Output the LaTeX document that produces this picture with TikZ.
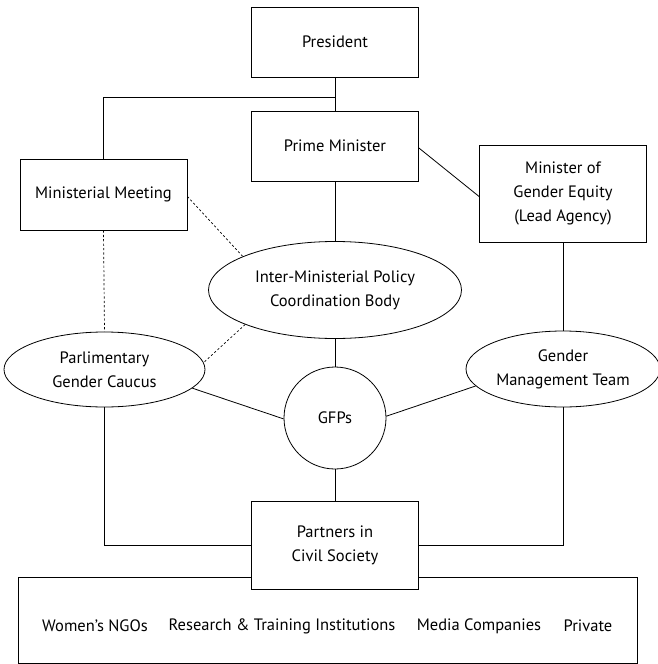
\documentclass[tikz,border=0pt]{standalone}
\usepackage{fontspec}
\setmainfont{PT Sans}
\usetikzlibrary{shapes.geometric}
\begin{document}
\begin{tikzpicture}[x=1pt,y=-1pt,
  every node/.style={font=\fontsize{16.5}{24}\selectfont, align=center, inner sep=0pt},
  box/.style={draw, fill=white, rectangle, line width=0.8pt},
  oval/.style={draw, fill=white, ellipse, line width=0.8pt},
  link/.style={line width=0.8pt},
  dotlink/.style={line width=0.7pt, dash pattern=on 2.2pt off 2.2pt}]
\useasboundingbox (0,0) rectangle (658,664);
% bottom band
\node[box, minimum width=619pt, minimum height=86pt] (band) at (327.5,620) {};
\node (ngo) at (95,626) {Women’s NGOs};
\node (rti) at (282,626) {Research \& Training Institutions};
\node (media) at (479,626) {Media Companies};
\node (priv) at (588,626) {Private};
% boxes
\node[box, minimum width=167pt, minimum height=70pt] (pres) at (335,42) {President};
\node[box, minimum width=167pt, minimum height=70pt] (pm) at (335,146) {Prime Minister};
\node[box, minimum width=167pt, minimum height=71pt] (mm) at (103.5,194.5) {Ministerial Meeting};
\node[box, minimum width=167pt, minimum height=97pt] (mge) at (563,193.5) {Minister of\\Gender Equity\\(Lead Agency)};
\node[oval, minimum width=253pt, minimum height=97pt] (imp) at (335,290) {Inter-Ministerial Policy\\Coordination Body};
\node[oval, minimum width=201pt, minimum height=75pt] (pgc) at (104.5,369.5) {Parlimentary\\Gender Caucus};
\node[oval, minimum width=194pt, minimum height=76pt] (gmt) at (563,369) {Gender\\Management Team};
\node[oval, minimum width=102pt, minimum height=102pt] (gfp) at (335,418) {GFPs};
\node[box, minimum width=167pt, minimum height=88pt] (pcs) at (335,545) {Partners in\\Civil Society};
% connectors
\coordinate (j) at (335,97);
\draw[link] (pres.south) -- (pm.north);
\draw[link] (j) -| (mm.north);
\draw[link] ([yshift=-2pt]pm.east) -- ([yshift=-3pt]mge.west);
\draw[link] (pm.south) -- (imp.north);
\draw[link] (mge.south) -- (gmt.north);
\draw[dotlink] ([yshift=-2pt]mm.east) -- (imp.160);
\draw[dotlink] (mm.south) -- (pgc.north);
\draw[dotlink] (imp.201.5) -- (pgc.4);
\draw[link] (imp.south) -- (gfp.north);
\draw[link] (pgc.-12) -- (gfp.181);
\draw[link] (gmt.191) -- (gfp.2);
\draw[link] (gfp.south) -- (pcs.north);
\draw[link] (pgc.south) |- (pcs.west);
\draw[link] (gmt.south) |- (pcs.east);
\end{tikzpicture}
\end{document}
